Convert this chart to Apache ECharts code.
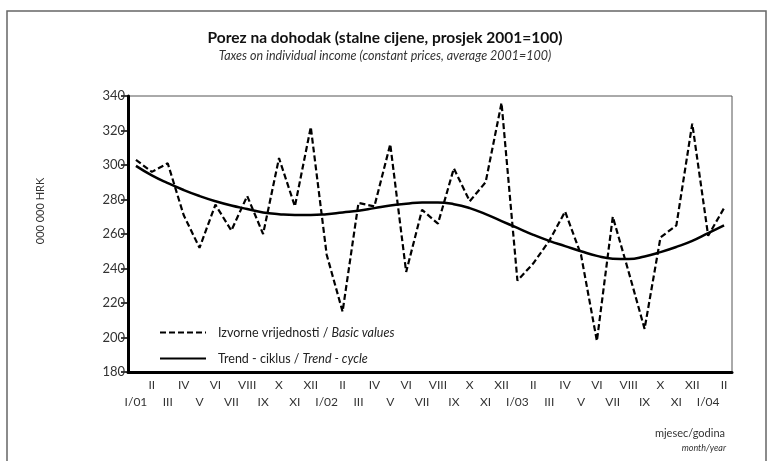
<!DOCTYPE html>
<html>
<head>
<meta charset="utf-8">
<script src="https://cdn.jsdelivr.net/npm/echarts@6/dist/echarts.min.js"></script>
<style>
  html, body { margin: 0; padding: 0; background: #fff; }
  #chart-container { width: 770px; height: 461px; }
</style>
</head>
<body>
<div id="chart-container"></div>
<script>
var dom = document.getElementById("chart-container");
var myChart = echarts.init(dom, null, { renderer: "canvas" });

// month labels, I/2001 .. II/2004
var months = [
  "I/01", "II", "III", "IV", "V", "VI", "VII", "VIII", "IX", "X", "XI", "XII",
  "I/02", "II", "III", "IV", "V", "VI", "VII", "VIII", "IX", "X", "XI", "XII",
  "I/03", "II", "III", "IV", "V", "VI", "VII", "VIII", "IX", "X", "XI", "XII",
  "I/04", "II"
];

// basic values (dashed)
var basicValues = [
  303, 296, 301, 271, 252, 277, 262, 282, 260, 304, 276, 322,
  248, 215, 278, 276, 312, 238, 274, 266, 298, 279, 290, 336,
  233, 243, 256, 273, 248, 198, 270, 238, 205, 258, 265, 324,
  259, 275
];

// trend - cycle (solid)
var trendCycle = [
  299.5, 294, 289.5, 285.5, 282, 279, 276.5, 274.5, 272.5, 271.5, 271, 271,
  271.5, 272.5, 273.5, 275, 276.5, 277.5, 278.3, 278.3, 277.3, 275, 271.5, 267.5,
  263.5, 259.5, 256, 253, 250, 247.3, 245.7, 245.5, 247, 249.5, 252.5, 256,
  260.5, 265
];

var font = "Lato";

var option = {
  backgroundColor: "#fff",
  textStyle: { fontFamily: font },
  title: {
    text: "Porez na dohodak (stalne cijene, prosjek 2001=100)",
    subtext: "Taxes on individual income (constant prices, average 2001=100)",
    left: "center",
    top: 25,
    itemGap: 3,
    textStyle: { fontFamily: font, fontSize: 15.5, fontWeight: "bold", color: "#111" },
    subtextStyle: { fontFamily: font, fontSize: 12.5, fontStyle: "italic", color: "#333" }
  },
  legend: {
    orient: "vertical",
    left: 154,
    top: 321,
    itemWidth: 46,
    itemHeight: 14,
    itemGap: 13,
    itemStyle: { opacity: 0 },
    data: ["basic", "trend"],
    formatter: function (name) {
      if (name === "basic") return "{n|Izvorne vrijednosti / }{i|Basic values}";
      return "{n|Trend - ciklus / }{i|Trend - cycle}";
    },
    textStyle: {
      fontFamily: font,
      fontSize: 12.5,
      color: "#222",
      padding: [0, 0, 0, 7],
      rich: {
        n: { fontFamily: font, fontSize: 12.5, color: "#222" },
        i: { fontFamily: font, fontSize: 12.5, color: "#222", fontStyle: "italic" }
      }
    }
  },
  grid: {
    left: 128,
    top: 96,
    width: 604,
    height: 276,
    show: true,
    borderColor: "#555",
    borderWidth: 1
  },
  xAxis: {
    type: "category",
    data: months,
    boundaryGap: true,
    axisLine: { lineStyle: { color: "#000", width: 3 } },
    axisTick: { show: false },
    axisLabel: {
      interval: 0,
      margin: 5,
      fontFamily: font,
      fontSize: 12,
      color: "#333",
      lineHeight: 17,
      formatter: function (value, index) {
        return index % 2 === 1 ? value + "\n " : " \n" + value;
      }
    },
    splitLine: { show: false }
  },
  yAxis: {
    type: "value",
    min: 180,
    max: 340,
    interval: 20,
    axisLine: { show: true, lineStyle: { color: "#000", width: 3 } },
    axisTick: { show: true, length: 7, lineStyle: { color: "#000", width: 1.5 } },
    axisLabel: { margin: 3, fontFamily: font, fontSize: 13, color: "#333" },
    splitLine: { show: false }
  },
  graphic: [
    {
      type: "rect",
      shape: { x: 7, y: 11, width: 759, height: 470 },
      style: { fill: "none", stroke: "#666", lineWidth: 1.5 },
      silent: true,
      z: -1
    },
    {
      type: "text",
      x: 40,
      y: 211,
      rotation: Math.PI / 2,
      style: {
        text: "000 000 HRK",
        fontFamily: font,
        fontSize: 11,
        fill: "#333",
        align: "center",
        verticalAlign: "middle"
      }
    },
    {
      type: "text",
      right: 45,
      top: 428,
      style: {
        text: "mjesec/godina",
        fontFamily: font,
        fontSize: 11,
        fill: "#333"
      }
    },
    {
      type: "text",
      right: 44,
      top: 444,
      style: {
        text: "month/year",
        fontFamily: font,
        fontSize: 9,
        fontStyle: "italic",
        fill: "#333"
      }
    }
  ],
  series: [
    {
      name: "basic",
      type: "line",
      data: basicValues,
      symbol: "none",
      lineStyle: { color: "#000", width: 2.2, type: [6, 3] },
      itemStyle: { color: "#000" },
      z: 3
    },
    {
      name: "trend",
      type: "line",
      data: trendCycle,
      symbol: "none",
      smooth: true,
      lineStyle: { color: "#000", width: 2.5 },
      itemStyle: { color: "#000" },
      z: 2
    }
  ]
};

myChart.setOption(option);

window.addEventListener("resize", function () {
  myChart.resize();
});
</script>
</body>
</html>
